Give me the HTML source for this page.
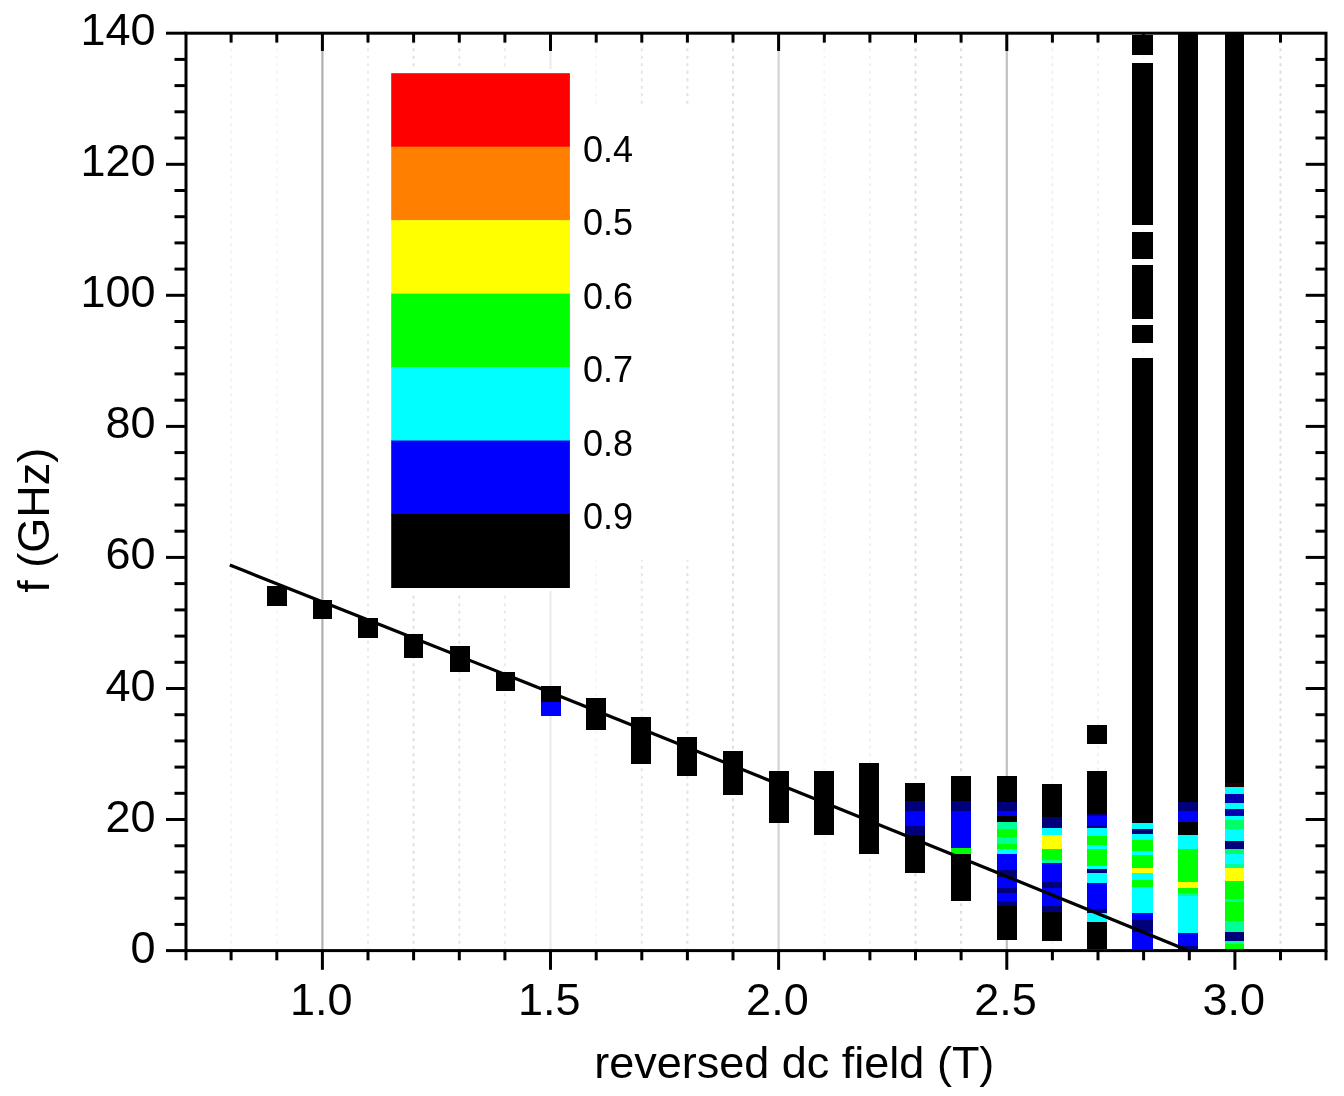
<!DOCTYPE html>
<html><head><meta charset="utf-8"><title>f vs reversed dc field</title>
<style>
html,body{margin:0;padding:0;background:#fff;}
body{width:1344px;height:1096px;overflow:hidden;}
svg{display:block;}
text{font-family:"Liberation Sans",Arial,sans-serif;fill:#000;}
</style></head><body>
<svg width="1344" height="1096" viewBox="0 0 1344 1096">
<rect x="0" y="0" width="1344" height="1096" fill="#fff"/>
<g>
<line x1="231.1" y1="33.2" x2="231.1" y2="950.6" stroke="#f2f2f2" stroke-width="2" stroke-dasharray="3 4.5"/>
<line x1="276.8" y1="33.2" x2="276.8" y2="950.6" stroke="#f6f6f6" stroke-width="2" stroke-dasharray="3 4.5"/>
<line x1="322.4" y1="33.2" x2="322.4" y2="950.6" stroke="#b0b0b0" stroke-width="2.2"/>
<line x1="368.0" y1="33.2" x2="368.0" y2="950.6" stroke="#eaeaea" stroke-width="2" stroke-dasharray="3 4.5"/>
<line x1="413.6" y1="33.2" x2="413.6" y2="950.6" stroke="#e0e0e0" stroke-width="2" stroke-dasharray="3 4.5"/>
<line x1="459.3" y1="33.2" x2="459.3" y2="950.6" stroke="#e4e4e4" stroke-width="2" stroke-dasharray="3 4.5"/>
<line x1="504.9" y1="33.2" x2="504.9" y2="950.6" stroke="#ececec" stroke-width="2" stroke-dasharray="3 4.5"/>
<line x1="550.5" y1="33.2" x2="550.5" y2="950.6" stroke="#ebebeb" stroke-width="2.2"/>
<line x1="596.2" y1="33.2" x2="596.2" y2="950.6" stroke="#f6f6f6" stroke-width="2" stroke-dasharray="3 4.5"/>
<line x1="641.8" y1="33.2" x2="641.8" y2="950.6" stroke="#e6e6e6" stroke-width="2" stroke-dasharray="3 4.5"/>
<line x1="687.4" y1="33.2" x2="687.4" y2="950.6" stroke="#e2e2e2" stroke-width="2" stroke-dasharray="3 4.5"/>
<line x1="733.0" y1="33.2" x2="733.0" y2="950.6" stroke="#dedede" stroke-width="2" stroke-dasharray="3 4.5"/>
<line x1="778.6" y1="33.2" x2="778.6" y2="950.6" stroke="#d3d3d3" stroke-width="2.2"/>
<line x1="824.3" y1="33.2" x2="824.3" y2="950.6" stroke="#f6f6f6" stroke-width="2" stroke-dasharray="3 4.5"/>
<line x1="869.9" y1="33.2" x2="869.9" y2="950.6" stroke="#f1f1f1" stroke-width="2" stroke-dasharray="3 4.5"/>
<line x1="915.5" y1="33.2" x2="915.5" y2="950.6" stroke="#dedede" stroke-width="2" stroke-dasharray="3 4.5"/>
<line x1="961.1" y1="33.2" x2="961.1" y2="950.6" stroke="#dedede" stroke-width="2" stroke-dasharray="3 4.5"/>
<line x1="1006.8" y1="33.2" x2="1006.8" y2="950.6" stroke="#c0c0c0" stroke-width="2.2"/>
<line x1="1052.4" y1="33.2" x2="1052.4" y2="950.6" stroke="#f1f1f1" stroke-width="2" stroke-dasharray="3 4.5"/>
<line x1="1098.0" y1="33.2" x2="1098.0" y2="950.6" stroke="#f1f1f1" stroke-width="2" stroke-dasharray="3 4.5"/>
<line x1="1143.6" y1="33.2" x2="1143.6" y2="950.6" stroke="#f6f6f6" stroke-width="2" stroke-dasharray="3 4.5"/>
<line x1="1189.3" y1="33.2" x2="1189.3" y2="950.6" stroke="#f6f6f6" stroke-width="2" stroke-dasharray="3 4.5"/>
<line x1="1234.9" y1="33.2" x2="1234.9" y2="950.6" stroke="#c8c8c8" stroke-width="2.2"/>
<line x1="1280.5" y1="33.2" x2="1280.5" y2="950.6" stroke="#dedede" stroke-width="2" stroke-dasharray="3 4.5"/>
</g>
<rect x="575" y="108" width="130" height="452" fill="#fff"/>
<rect x="387" y="69" width="186" height="522" fill="#fff"/>
<g shape-rendering="crispEdges">
<rect x="267.2" y="585.5" width="19.4" height="20.0" fill="#000000"/>
<rect x="312.6" y="599.6" width="19.2" height="18.9" fill="#000000"/>
<rect x="358.2" y="618.0" width="19.4" height="19.5" fill="#000000"/>
<rect x="403.5" y="633.7" width="19.3" height="24.6" fill="#000000"/>
<rect x="449.9" y="645.5" width="19.7" height="26.1" fill="#000000"/>
<rect x="495.6" y="672.0" width="19.6" height="19.0" fill="#000000"/>
<rect x="540.7" y="685.7" width="19.8" height="16.0" fill="#000000"/>
<rect x="540.7" y="701.7" width="19.8" height="14.3" fill="#0000ff"/>
<rect x="586.0" y="697.6" width="19.7" height="32.6" fill="#000000"/>
<rect x="631.2" y="717.1" width="19.8" height="46.5" fill="#000000"/>
<rect x="677.2" y="737.4" width="20.2" height="38.1" fill="#000000"/>
<rect x="723.3" y="751.2" width="19.8" height="44.0" fill="#000000"/>
<rect x="768.8" y="770.7" width="20.0" height="52.1" fill="#000000"/>
<rect x="814.2" y="770.8" width="19.5" height="63.8" fill="#000000"/>
<rect x="859.4" y="763.4" width="19.5" height="90.4" fill="#000000"/>
<rect x="905.3" y="783.4" width="19.5" height="17.2" fill="#000000"/>
<rect x="905.3" y="800.6" width="19.5" height="10.3" fill="#00007a"/>
<rect x="905.3" y="810.9" width="19.5" height="15.3" fill="#0000ff"/>
<rect x="905.3" y="826.2" width="19.5" height="8.9" fill="#00007a"/>
<rect x="905.3" y="835.1" width="19.5" height="38.3" fill="#000000"/>
<rect x="951.0" y="776.1" width="20.1" height="25.2" fill="#000000"/>
<rect x="951.0" y="801.3" width="20.1" height="9.6" fill="#00007a"/>
<rect x="951.0" y="810.9" width="20.1" height="37.0" fill="#0000ff"/>
<rect x="951.0" y="847.9" width="20.1" height="6.4" fill="#00ff00"/>
<rect x="951.0" y="854.3" width="20.1" height="46.6" fill="#000000"/>
<rect x="996.8" y="776.4" width="19.7" height="25.6" fill="#000000"/>
<rect x="996.8" y="802.0" width="19.7" height="9.0" fill="#00007a"/>
<rect x="996.8" y="811.0" width="19.7" height="4.7" fill="#0000ff"/>
<rect x="996.8" y="815.7" width="19.7" height="6.3" fill="#000000"/>
<rect x="996.8" y="822.0" width="19.7" height="7.3" fill="#00ff99"/>
<rect x="996.8" y="829.3" width="19.7" height="7.3" fill="#00ff00"/>
<rect x="996.8" y="836.6" width="19.7" height="7.4" fill="#00ff99"/>
<rect x="996.8" y="844.0" width="19.7" height="5.4" fill="#00ff00"/>
<rect x="996.8" y="849.4" width="19.7" height="4.6" fill="#00ffff"/>
<rect x="996.8" y="854.0" width="19.7" height="15.5" fill="#0000ff"/>
<rect x="996.8" y="869.5" width="19.7" height="7.3" fill="#00007a"/>
<rect x="996.8" y="876.8" width="19.7" height="10.9" fill="#0000ff"/>
<rect x="996.8" y="887.7" width="19.7" height="5.5" fill="#00007a"/>
<rect x="996.8" y="893.2" width="19.7" height="7.3" fill="#0000ff"/>
<rect x="996.8" y="900.5" width="19.7" height="5.5" fill="#00007a"/>
<rect x="996.8" y="906.0" width="19.7" height="33.7" fill="#000000"/>
<rect x="1042.4" y="783.7" width="19.7" height="32.9" fill="#000000"/>
<rect x="1042.4" y="816.6" width="19.7" height="10.9" fill="#00007a"/>
<rect x="1042.4" y="827.5" width="19.7" height="7.3" fill="#00ffff"/>
<rect x="1042.4" y="834.8" width="19.7" height="14.6" fill="#ffff00"/>
<rect x="1042.4" y="849.4" width="19.7" height="10.1" fill="#00ff00"/>
<rect x="1042.4" y="859.5" width="19.7" height="3.5" fill="#00ff99"/>
<rect x="1042.4" y="863.0" width="19.7" height="19.3" fill="#0000ff"/>
<rect x="1042.4" y="882.3" width="19.7" height="5.4" fill="#00007a"/>
<rect x="1042.4" y="887.7" width="19.7" height="18.3" fill="#0000ff"/>
<rect x="1042.4" y="906.0" width="19.7" height="5.5" fill="#00007a"/>
<rect x="1042.4" y="911.5" width="19.7" height="29.2" fill="#000000"/>
<rect x="1087.0" y="724.9" width="20.2" height="18.9" fill="#000000"/>
<rect x="1087.0" y="770.6" width="20.2" height="43.1" fill="#000000"/>
<rect x="1087.0" y="813.7" width="20.2" height="2.3" fill="#00007a"/>
<rect x="1087.0" y="816.0" width="20.2" height="9.6" fill="#0000ff"/>
<rect x="1087.0" y="825.6" width="20.2" height="2.4" fill="#00007a"/>
<rect x="1087.0" y="828.0" width="20.2" height="8.3" fill="#00ffff"/>
<rect x="1087.0" y="836.3" width="20.2" height="8.2" fill="#00ff00"/>
<rect x="1087.0" y="844.5" width="20.2" height="4.8" fill="#00ffff"/>
<rect x="1087.0" y="849.3" width="20.2" height="16.6" fill="#00ff00"/>
<rect x="1087.0" y="865.9" width="20.2" height="3.5" fill="#00ffff"/>
<rect x="1087.0" y="869.4" width="20.2" height="3.6" fill="#00007a"/>
<rect x="1087.0" y="873.0" width="20.2" height="9.5" fill="#00ffff"/>
<rect x="1087.0" y="882.5" width="20.2" height="26.0" fill="#0000ff"/>
<rect x="1087.0" y="908.5" width="20.2" height="4.8" fill="#00007a"/>
<rect x="1087.0" y="913.3" width="20.2" height="8.3" fill="#00ffff"/>
<rect x="1087.0" y="921.6" width="20.2" height="27.4" fill="#000000"/>
<rect x="1132.3" y="34.5" width="20.5" height="20.4" fill="#000000"/>
<rect x="1132.3" y="63.1" width="20.5" height="162.2" fill="#000000"/>
<rect x="1132.3" y="231.9" width="20.5" height="27.0" fill="#000000"/>
<rect x="1132.3" y="265.4" width="20.5" height="53.2" fill="#000000"/>
<rect x="1132.3" y="324.5" width="20.5" height="18.9" fill="#000000"/>
<rect x="1132.3" y="357.6" width="20.5" height="465.6" fill="#000000"/>
<rect x="1132.3" y="823.2" width="20.5" height="5.8" fill="#00ffff"/>
<rect x="1132.3" y="829.0" width="20.5" height="4.9" fill="#00007a"/>
<rect x="1132.3" y="833.9" width="20.5" height="5.9" fill="#00ffff"/>
<rect x="1132.3" y="839.8" width="20.5" height="10.7" fill="#00ff00"/>
<rect x="1132.3" y="850.5" width="20.5" height="4.7" fill="#00ffff"/>
<rect x="1132.3" y="855.2" width="20.5" height="13.0" fill="#00ff00"/>
<rect x="1132.3" y="868.2" width="20.5" height="4.8" fill="#ffff00"/>
<rect x="1132.3" y="873.0" width="20.5" height="7.1" fill="#00ffff"/>
<rect x="1132.3" y="880.1" width="20.5" height="7.1" fill="#00ff00"/>
<rect x="1132.3" y="887.2" width="20.5" height="26.1" fill="#00ffff"/>
<rect x="1132.3" y="913.3" width="20.5" height="7.1" fill="#0000ff"/>
<rect x="1132.3" y="920.4" width="20.5" height="11.6" fill="#00007a"/>
<rect x="1132.3" y="932.0" width="20.5" height="17.0" fill="#0000ff"/>
<rect x="1178.2" y="33.5" width="20.1" height="768.5" fill="#000000"/>
<rect x="1178.2" y="802.0" width="20.1" height="9.1" fill="#00007a"/>
<rect x="1178.2" y="811.1" width="20.1" height="10.9" fill="#0000ff"/>
<rect x="1178.2" y="822.0" width="20.1" height="12.8" fill="#000000"/>
<rect x="1178.2" y="834.8" width="20.1" height="14.6" fill="#00ffff"/>
<rect x="1178.2" y="849.4" width="20.1" height="32.9" fill="#00ff00"/>
<rect x="1178.2" y="882.3" width="20.1" height="5.4" fill="#ffff00"/>
<rect x="1178.2" y="887.7" width="20.1" height="5.5" fill="#00ff00"/>
<rect x="1178.2" y="893.2" width="20.1" height="2.8" fill="#00ff99"/>
<rect x="1178.2" y="896.0" width="20.1" height="37.4" fill="#00ffff"/>
<rect x="1178.2" y="933.4" width="20.1" height="12.6" fill="#0000ff"/>
<rect x="1178.2" y="946.0" width="20.1" height="3.5" fill="#00007a"/>
<rect x="1224.7" y="33.5" width="19.6" height="749.5" fill="#000000"/>
<rect x="1224.7" y="783.0" width="19.6" height="4.0" fill="#1a0000"/>
<rect x="1224.7" y="787.0" width="19.6" height="7.0" fill="#00ffff"/>
<rect x="1224.7" y="794.0" width="19.6" height="9.0" fill="#0000b0"/>
<rect x="1224.7" y="803.0" width="19.6" height="6.0" fill="#00ffff"/>
<rect x="1224.7" y="809.0" width="19.6" height="6.7" fill="#0000b0"/>
<rect x="1224.7" y="815.7" width="19.6" height="4.5" fill="#00ffff"/>
<rect x="1224.7" y="820.2" width="19.6" height="9.1" fill="#00ff66"/>
<rect x="1224.7" y="829.3" width="19.6" height="12.0" fill="#00ffff"/>
<rect x="1224.7" y="841.3" width="19.6" height="8.0" fill="#00007a"/>
<rect x="1224.7" y="849.3" width="19.6" height="5.1" fill="#00ff66"/>
<rect x="1224.7" y="854.4" width="19.6" height="10.0" fill="#00ffff"/>
<rect x="1224.7" y="864.4" width="19.6" height="4.0" fill="#00ff99"/>
<rect x="1224.7" y="868.4" width="19.6" height="13.0" fill="#ffff00"/>
<rect x="1224.7" y="881.4" width="19.6" height="17.3" fill="#00ff00"/>
<rect x="1224.7" y="898.7" width="19.6" height="3.6" fill="#00ff99"/>
<rect x="1224.7" y="902.3" width="19.6" height="18.3" fill="#00ff00"/>
<rect x="1224.7" y="920.6" width="19.6" height="10.9" fill="#00ff99"/>
<rect x="1224.7" y="931.5" width="19.6" height="9.2" fill="#00007a"/>
<rect x="1224.7" y="940.7" width="19.6" height="3.6" fill="#00ff99"/>
<rect x="1224.7" y="944.3" width="19.6" height="5.5" fill="#00ff00"/>
</g>
<path d="M229.8 565.1 Q708.9 754.3 1188 950.5" fill="none" stroke="#000" stroke-width="3.2"/>
<rect x="391.2" y="73.2" width="178.7" height="74.0" fill="#ff0000"/>
<rect x="391.2" y="146.7" width="178.7" height="74.0" fill="#ff8000"/>
<rect x="391.2" y="220.1" width="178.7" height="74.0" fill="#ffff00"/>
<rect x="391.2" y="293.6" width="178.7" height="74.0" fill="#00ff00"/>
<rect x="391.2" y="367.0" width="178.7" height="74.0" fill="#00ffff"/>
<rect x="391.2" y="440.5" width="178.7" height="74.0" fill="#0000ff"/>
<rect x="391.2" y="514.0" width="178.7" height="74.0" fill="#000000"/>
<text x="583" y="161.7" font-size="36">0.4</text>
<text x="583" y="235.1" font-size="36">0.5</text>
<text x="583" y="308.6" font-size="36">0.6</text>
<text x="583" y="382.0" font-size="36">0.7</text>
<text x="583" y="455.5" font-size="36">0.8</text>
<text x="583" y="529.0" font-size="36">0.9</text>
<g stroke="#000" stroke-width="3" fill="none" stroke-linecap="butt">
<rect x="186.0" y="33.2" width="1140.0" height="917.4"/>
<line x1="186.0" y1="950.6" x2="186.0" y2="960.3"/>
<line x1="231.1" y1="950.6" x2="231.1" y2="960.3"/>
<line x1="231.1" y1="33.2" x2="231.1" y2="42.6"/>
<line x1="276.8" y1="950.6" x2="276.8" y2="960.3"/>
<line x1="276.8" y1="33.2" x2="276.8" y2="42.6"/>
<line x1="322.4" y1="950.6" x2="322.4" y2="969.8"/>
<line x1="322.4" y1="33.2" x2="322.4" y2="51.0"/>
<line x1="368.0" y1="950.6" x2="368.0" y2="960.3"/>
<line x1="368.0" y1="33.2" x2="368.0" y2="42.6"/>
<line x1="413.6" y1="950.6" x2="413.6" y2="960.3"/>
<line x1="413.6" y1="33.2" x2="413.6" y2="42.6"/>
<line x1="459.3" y1="950.6" x2="459.3" y2="960.3"/>
<line x1="459.3" y1="33.2" x2="459.3" y2="42.6"/>
<line x1="504.9" y1="950.6" x2="504.9" y2="960.3"/>
<line x1="504.9" y1="33.2" x2="504.9" y2="42.6"/>
<line x1="550.5" y1="950.6" x2="550.5" y2="969.8"/>
<line x1="550.5" y1="33.2" x2="550.5" y2="51.0"/>
<line x1="596.2" y1="950.6" x2="596.2" y2="960.3"/>
<line x1="596.2" y1="33.2" x2="596.2" y2="42.6"/>
<line x1="641.8" y1="950.6" x2="641.8" y2="960.3"/>
<line x1="641.8" y1="33.2" x2="641.8" y2="42.6"/>
<line x1="687.4" y1="950.6" x2="687.4" y2="960.3"/>
<line x1="687.4" y1="33.2" x2="687.4" y2="42.6"/>
<line x1="733.0" y1="950.6" x2="733.0" y2="960.3"/>
<line x1="733.0" y1="33.2" x2="733.0" y2="42.6"/>
<line x1="778.6" y1="950.6" x2="778.6" y2="969.8"/>
<line x1="778.6" y1="33.2" x2="778.6" y2="51.0"/>
<line x1="824.3" y1="950.6" x2="824.3" y2="960.3"/>
<line x1="824.3" y1="33.2" x2="824.3" y2="42.6"/>
<line x1="869.9" y1="950.6" x2="869.9" y2="960.3"/>
<line x1="869.9" y1="33.2" x2="869.9" y2="42.6"/>
<line x1="915.5" y1="950.6" x2="915.5" y2="960.3"/>
<line x1="915.5" y1="33.2" x2="915.5" y2="42.6"/>
<line x1="961.1" y1="950.6" x2="961.1" y2="960.3"/>
<line x1="961.1" y1="33.2" x2="961.1" y2="42.6"/>
<line x1="1006.8" y1="950.6" x2="1006.8" y2="969.8"/>
<line x1="1006.8" y1="33.2" x2="1006.8" y2="51.0"/>
<line x1="1052.4" y1="950.6" x2="1052.4" y2="960.3"/>
<line x1="1052.4" y1="33.2" x2="1052.4" y2="42.6"/>
<line x1="1098.0" y1="950.6" x2="1098.0" y2="960.3"/>
<line x1="1098.0" y1="33.2" x2="1098.0" y2="42.6"/>
<line x1="1143.6" y1="950.6" x2="1143.6" y2="960.3"/>
<line x1="1143.6" y1="33.2" x2="1143.6" y2="42.6"/>
<line x1="1189.3" y1="950.6" x2="1189.3" y2="960.3"/>
<line x1="1189.3" y1="33.2" x2="1189.3" y2="42.6"/>
<line x1="1234.9" y1="950.6" x2="1234.9" y2="969.8"/>
<line x1="1234.9" y1="33.2" x2="1234.9" y2="51.0"/>
<line x1="1280.5" y1="950.6" x2="1280.5" y2="960.3"/>
<line x1="1280.5" y1="33.2" x2="1280.5" y2="42.6"/>
<line x1="1326.0" y1="950.6" x2="1326.0" y2="960.3"/>
<line x1="166.0" y1="950.6" x2="186.0" y2="950.6"/>
<line x1="174.5" y1="924.4" x2="186.0" y2="924.4"/>
<line x1="1326.0" y1="924.4" x2="1315.5" y2="924.4"/>
<line x1="174.5" y1="898.2" x2="186.0" y2="898.2"/>
<line x1="1326.0" y1="898.2" x2="1315.5" y2="898.2"/>
<line x1="174.5" y1="872.0" x2="186.0" y2="872.0"/>
<line x1="1326.0" y1="872.0" x2="1315.5" y2="872.0"/>
<line x1="174.5" y1="845.8" x2="186.0" y2="845.8"/>
<line x1="1326.0" y1="845.8" x2="1315.5" y2="845.8"/>
<line x1="166.0" y1="819.5" x2="186.0" y2="819.5"/>
<line x1="1326.0" y1="819.5" x2="1305.7" y2="819.5"/>
<line x1="174.5" y1="793.3" x2="186.0" y2="793.3"/>
<line x1="1326.0" y1="793.3" x2="1315.5" y2="793.3"/>
<line x1="174.5" y1="767.1" x2="186.0" y2="767.1"/>
<line x1="1326.0" y1="767.1" x2="1315.5" y2="767.1"/>
<line x1="174.5" y1="740.9" x2="186.0" y2="740.9"/>
<line x1="1326.0" y1="740.9" x2="1315.5" y2="740.9"/>
<line x1="174.5" y1="714.7" x2="186.0" y2="714.7"/>
<line x1="1326.0" y1="714.7" x2="1315.5" y2="714.7"/>
<line x1="166.0" y1="688.5" x2="186.0" y2="688.5"/>
<line x1="1326.0" y1="688.5" x2="1305.7" y2="688.5"/>
<line x1="174.5" y1="662.3" x2="186.0" y2="662.3"/>
<line x1="1326.0" y1="662.3" x2="1315.5" y2="662.3"/>
<line x1="174.5" y1="636.1" x2="186.0" y2="636.1"/>
<line x1="1326.0" y1="636.1" x2="1315.5" y2="636.1"/>
<line x1="174.5" y1="609.9" x2="186.0" y2="609.9"/>
<line x1="1326.0" y1="609.9" x2="1315.5" y2="609.9"/>
<line x1="174.5" y1="583.6" x2="186.0" y2="583.6"/>
<line x1="1326.0" y1="583.6" x2="1315.5" y2="583.6"/>
<line x1="166.0" y1="557.4" x2="186.0" y2="557.4"/>
<line x1="1326.0" y1="557.4" x2="1305.7" y2="557.4"/>
<line x1="174.5" y1="531.2" x2="186.0" y2="531.2"/>
<line x1="1326.0" y1="531.2" x2="1315.5" y2="531.2"/>
<line x1="174.5" y1="505.0" x2="186.0" y2="505.0"/>
<line x1="1326.0" y1="505.0" x2="1315.5" y2="505.0"/>
<line x1="174.5" y1="478.8" x2="186.0" y2="478.8"/>
<line x1="1326.0" y1="478.8" x2="1315.5" y2="478.8"/>
<line x1="174.5" y1="452.6" x2="186.0" y2="452.6"/>
<line x1="1326.0" y1="452.6" x2="1315.5" y2="452.6"/>
<line x1="166.0" y1="426.4" x2="186.0" y2="426.4"/>
<line x1="1326.0" y1="426.4" x2="1305.7" y2="426.4"/>
<line x1="174.5" y1="400.2" x2="186.0" y2="400.2"/>
<line x1="1326.0" y1="400.2" x2="1315.5" y2="400.2"/>
<line x1="174.5" y1="373.9" x2="186.0" y2="373.9"/>
<line x1="1326.0" y1="373.9" x2="1315.5" y2="373.9"/>
<line x1="174.5" y1="347.7" x2="186.0" y2="347.7"/>
<line x1="1326.0" y1="347.7" x2="1315.5" y2="347.7"/>
<line x1="174.5" y1="321.5" x2="186.0" y2="321.5"/>
<line x1="1326.0" y1="321.5" x2="1315.5" y2="321.5"/>
<line x1="166.0" y1="295.3" x2="186.0" y2="295.3"/>
<line x1="1326.0" y1="295.3" x2="1305.7" y2="295.3"/>
<line x1="174.5" y1="269.1" x2="186.0" y2="269.1"/>
<line x1="1326.0" y1="269.1" x2="1315.5" y2="269.1"/>
<line x1="174.5" y1="242.9" x2="186.0" y2="242.9"/>
<line x1="1326.0" y1="242.9" x2="1315.5" y2="242.9"/>
<line x1="174.5" y1="216.7" x2="186.0" y2="216.7"/>
<line x1="1326.0" y1="216.7" x2="1315.5" y2="216.7"/>
<line x1="174.5" y1="190.5" x2="186.0" y2="190.5"/>
<line x1="1326.0" y1="190.5" x2="1315.5" y2="190.5"/>
<line x1="166.0" y1="164.3" x2="186.0" y2="164.3"/>
<line x1="1326.0" y1="164.3" x2="1305.7" y2="164.3"/>
<line x1="174.5" y1="138.0" x2="186.0" y2="138.0"/>
<line x1="1326.0" y1="138.0" x2="1315.5" y2="138.0"/>
<line x1="174.5" y1="111.8" x2="186.0" y2="111.8"/>
<line x1="1326.0" y1="111.8" x2="1315.5" y2="111.8"/>
<line x1="174.5" y1="85.6" x2="186.0" y2="85.6"/>
<line x1="1326.0" y1="85.6" x2="1315.5" y2="85.6"/>
<line x1="174.5" y1="59.4" x2="186.0" y2="59.4"/>
<line x1="1326.0" y1="59.4" x2="1315.5" y2="59.4"/>
<line x1="166.0" y1="33.2" x2="186.0" y2="33.2"/>
</g>
<text x="321.2" y="1014.8" font-size="45" text-anchor="middle">1.0</text>
<text x="549.3" y="1014.8" font-size="45" text-anchor="middle">1.5</text>
<text x="777.4" y="1014.8" font-size="45" text-anchor="middle">2.0</text>
<text x="1005.6" y="1014.8" font-size="45" text-anchor="middle">2.5</text>
<text x="1233.7" y="1014.8" font-size="45" text-anchor="middle">3.0</text>
<text x="155.5" y="962.6" font-size="45" text-anchor="end">0</text>
<text x="155.5" y="831.5" font-size="45" text-anchor="end">20</text>
<text x="155.5" y="700.5" font-size="45" text-anchor="end">40</text>
<text x="155.5" y="569.4" font-size="45" text-anchor="end">60</text>
<text x="155.5" y="438.4" font-size="45" text-anchor="end">80</text>
<text x="155.5" y="307.3" font-size="45" text-anchor="end">100</text>
<text x="155.5" y="176.3" font-size="45" text-anchor="end">120</text>
<text x="155.5" y="45.2" font-size="45" text-anchor="end">140</text>
<text x="794.3" y="1077.5" font-size="45" text-anchor="middle">reversed dc field (T)</text>
<text transform="translate(48.5,520.2) rotate(-90)" x="0" y="0" font-size="45" text-anchor="middle">f (GHz)</text>
</svg>
</body></html>
